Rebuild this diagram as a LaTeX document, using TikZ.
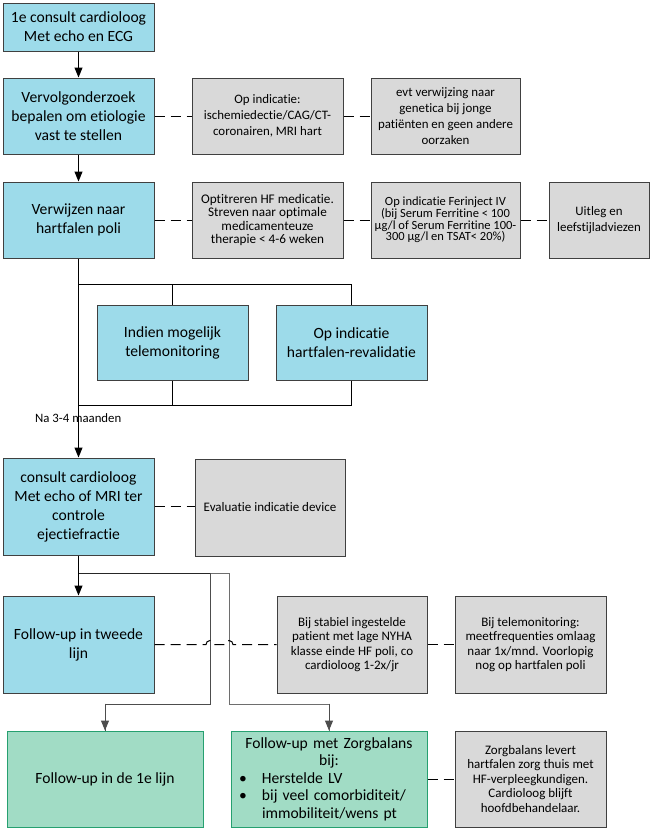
\documentclass[tikz,border=0pt]{standalone}
\usepackage{fontspec}
\setmainfont{Carlito}[Ligatures={NoCommon}]
\usetikzlibrary{arrows.meta}
\definecolor{cyanf}{RGB}{157,219,234}
\definecolor{grayf}{RGB}{217,217,217}
\definecolor{greenf}{RGB}{161,220,197}
\definecolor{greend}{RGB}{38,160,112}
\definecolor{bord}{RGB}{64,64,64}
\definecolor{lnA}{RGB}{77,77,77}
\definecolor{lnB}{RGB}{110,110,110}
\tikzset{
 box/.style={draw=bord, line width=1pt, inner sep=2pt, align=center, text=black},
 cbox/.style={box, fill=cyanf, font=\fontsize{15.6}{19}\selectfont},
 gbox/.style={box, fill=grayf},
 grbox/.style={box, draw=greend, fill=greenf, font=\fontsize{15.6}{17.5}\selectfont},
 arr/.style={line width=1pt, -{Triangle[length=10pt,width=8pt]}},
 conn/.style={line width=1pt},
 dsh/.style={line width=1pt, dash pattern=on 10pt off 6pt},
 fA/.style={font=\fontsize{12.9}{16}\selectfont},
 fB/.style={font=\fontsize{13.2}{13.3}\selectfont},
 fC/.style={font=\fontsize{12.5}{11.8}\selectfont},
 fD/.style={font=\fontsize{13}{14.5}\selectfont},
}
\begin{document}
\begin{tikzpicture}[x=1pt,y=-1pt]
\useasboundingbox (0,0) rectangle (654,831);
% main column
\node[cbox, minimum width=151pt, minimum height=48pt] (b1) at (78.5,27) {1e consult cardioloog\\Met echo en ECG};
\node[cbox, minimum width=151pt, minimum height=76pt] (b2) at (78.5,116) {Vervolgonderzoek\\bepalen om etiologie\\vast te stellen};
\node[gbox, fA, minimum width=151pt, minimum height=76pt] (g1) at (267.5,116) {Op indicatie:\\ischemiedectie/CAG/CT-\\coronairen, MRI hart};
\node[gbox, fA, minimum width=149pt, minimum height=76pt] (g2) at (445.5,116) {evt verwijzing naar\\genetica bij jonge\\patiënten en geen andere\\oorzaken};
\node[cbox, minimum width=151pt, minimum height=76pt] (b3) at (78.5,220) {Verwijzen naar\\hartfalen poli};
\node[gbox, fB, minimum width=151pt, minimum height=76pt] (g3) at (267.5,220) {Optitreren HF medicatie.\\Streven naar optimale\\medicamenteuze\\therapie < 4-6 weken};
\node[gbox, fC, minimum width=149pt, minimum height=76pt] (g4) at (445.5,220) {Op indicatie Ferinject IV\\(bij Serum Ferritine < 100\\µg/l of Serum Ferritine 100-\\300 µg/l en TSAT< 20\%)};
\node[gbox, fA, minimum width=100pt, minimum height=76pt] (g5) at (599,220) {Uitleg en\\leefstijladviezen};
\node[cbox, minimum width=151pt, minimum height=75pt] (t1) at (172.5,342.5) {Indien mogelijk\\telemonitoring};
\node[cbox, minimum width=151pt, minimum height=75pt] (t2) at (351.5,342.5) {Op indicatie\\hartfalen-revalidatie};
\node[anchor=west, inner sep=0pt, font=\fontsize{12.8}{14}\selectfont] (na) at (35,418) {Na 3-4 maanden};
\node[cbox, minimum width=151pt, minimum height=97pt] (b4) at (78.5,506.5) {consult cardioloog\\Met echo of MRI ter\\controle\\ejectiefractie};
\node[gbox, fD, minimum width=150pt, minimum height=97pt] (g6) at (270,507.5) {Evaluatie indicatie device};
\node[cbox, minimum width=151pt, minimum height=97pt] (b5) at (78.5,644.5) {Follow-up in tweede\\lijn};
\node[gbox, fD, minimum width=150pt, minimum height=97pt] (g7) at (352,644.5) {Bij stabiel ingestelde\\patient met lage NYHA\\klasse einde HF poli, co\\cardioloog 1-2x/jr};
\node[gbox, fD, minimum width=151pt, minimum height=97pt] (g8) at (530.5,644.5) {Bij telemonitoring:\\meetfrequenties omlaag\\naar 1x/mnd. Voorlopig\\nog op hartfalen poli};
\node[grbox, minimum width=196pt, minimum height=96pt] (gr1) at (105,779) {Follow-up in de 1e lijn};
\node[grbox, minimum width=196pt, minimum height=96pt, text width=190pt] (gr2) at (329,779) {Follow-up met Zorgbalans\\bij:\\
\makebox[\linewidth][l]{\hspace*{5pt}\makebox[23pt][l]{\textbullet}Herstelde LV}\\
\makebox[\linewidth][l]{\hspace*{5pt}\makebox[23pt][l]{\textbullet}bij veel comorbiditeit/}\\
\makebox[\linewidth][l]{\hspace*{28pt}immobiliteit/wens pt}};
\node[gbox, fD, minimum width=151pt, minimum height=96pt] (g9) at (530.5,779) {Zorgbalans levert\\hartfalen zorg thuis met\\HF-verpleegkundigen.\\Cardioloog blijft\\hoofdbehandelaar.};
% coordinates
\coordinate (s1) at (78.5,284);
\coordinate (s2) at (78.5,405);
\coordinate (s3) at (78.5,573);
\coordinate (j1) at (210,573);
\coordinate (j2) at (229,573);
\coordinate (k1) at (210,704);
\coordinate (k2) at (229,704);
\coordinate (h1) at (206,644.5);
\coordinate (h2) at (225,644.5);
% solid connectors
\draw[arr] (b1) -- (b2);
\draw[arr] (b2) -- (b3);
\draw[arr] (b3.south) -- (b4.north);
\draw[conn] (s1) -| (t1.north);
\draw[conn] (s1) -| (t2.north);
\draw[conn] (t1.south) |- (s2);
\draw[conn] (t2.south) |- (s2);
\draw[arr] (b4.south) -- (b5.north);
\draw[conn, black!85] (s3) -- (j1);
\draw[conn, lnB] (j1) -- (j2);
\draw[conn, lnA] (j1) -- (k1) -| (gr1.north);
\draw[arr, lnA] (k1 -| gr1.north) ++(0,-0.5) -- (gr1.north);
\draw[conn, lnB] (j2) -- (k2) -| (gr2.north);
\draw[arr, lnA] (k2 -| gr2.north) ++(0,-0.5) -- (gr2.north);
% dashed connectors
\draw[dsh] (b2.east) -- (g1.west);
\draw[dsh] (g1.east) -- (g2.west);
\draw[dsh] (b3.east) -- (g3.west);
\draw[dsh] (g3.east) -- (g4.west);
\draw[dsh] (g4.east) -- (g5.west);
\draw[dsh] (b4.east) -- (b4.east -| g6.west);
\draw[dsh] (b5.east) -- (h1) arc[start angle=180, end angle=0, radius=4pt] -- (h2) arc[start angle=180, end angle=0, radius=4pt] -- (g7.west);
\draw[dsh] (g7.east) -- (g8.west);
\draw[dsh] (gr2.east) -- (g9.west);
\end{tikzpicture}
\end{document}
